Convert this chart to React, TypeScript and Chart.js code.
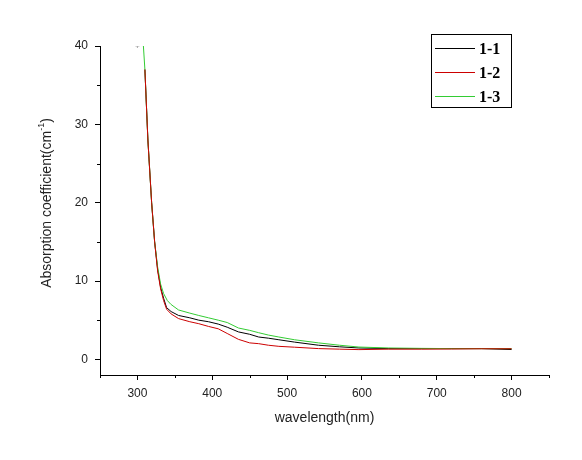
import React, { useEffect, useRef } from "react";
import { Chart, registerables } from "chart.js";

Chart.register(...registerables);

// 1-1 (black)
const wl11 = [310, 314, 319, 323, 327, 331, 335, 339, 345, 355, 370, 382, 395, 408, 420, 435, 450, 462, 475, 489, 510, 542, 570, 596, 636, 680, 720, 760, 800];
const ab11 = [37, 28, 20, 15, 11.5, 9.2, 7.8, 6.6, 6.1, 5.6, 5.3, 5.0, 4.8, 4.5, 4.1, 3.5, 3.2, 2.85, 2.7, 2.5, 2.2, 1.8, 1.6, 1.45, 1.37, 1.37, 1.37, 1.37, 1.25];
// 1-2 (red)
const wl12 = [310, 314, 319, 323, 327, 331, 335, 339, 345, 355, 370, 382, 395, 408, 420, 435, 450, 462, 475, 489, 510, 542, 570, 596, 636, 680, 720, 760, 800];
const ab12 = [37, 28, 20, 15, 11.3, 9.0, 7.5, 6.4, 5.8, 5.2, 4.8, 4.55, 4.2, 3.9, 3.3, 2.55, 2.1, 2.0, 1.8, 1.66, 1.55, 1.37, 1.3, 1.24, 1.3, 1.3, 1.32, 1.35, 1.35];
// 1-3 (green)
const wl13 = [308, 310, 314, 319, 323, 327, 331, 335, 340, 345, 355, 370, 382, 395, 408, 420, 435, 450, 462, 475, 489, 510, 542, 570, 596, 636, 680, 720, 760, 800];
const ab13 = [40, 37, 28, 20, 15, 11.8, 9.6, 8.4, 7.5, 7.0, 6.3, 5.9, 5.6, 5.3, 5.0, 4.7, 4.0, 3.7, 3.4, 3.1, 2.85, 2.5, 2.1, 1.8, 1.57, 1.45, 1.4, 1.37, 1.37, 1.37];

const seriesNames = ["1-1", "1-2", "1-3"];
const seriesColors = ["#000000", "#cc0000", "#33cc33"];

const xMajorTicks = [300, 400, 500, 600, 700, 800];
const xMinorTicks = [250, 350, 450, 550, 650, 750, 850];
const yMajorTicks = [0, 10, 20, 30, 40];
const yMinorTicks = [5, 15, 25, 35];

const xTitle = "wavelength(nm)";
const yTitleMain = "Absorption coefficient(cm";
const yTitleSup = "-1";
const yTitleEnd = ")";

const toPts = (xs: number[], ys: number[]) => xs.map((x, i) => ({ x, y: ys[i] }));

const overlay = {
  id: "overlay",
  afterDraw(chart: any) {
    const ctx = chart.ctx;
    const xs = chart.scales.x;
    const ys = chart.scales.y;
    const area = chart.chartArea;
    ctx.save();
    ctx.strokeStyle = "#000";
    ctx.lineWidth = 1;
    // minor ticks
    ctx.beginPath();
    xMinorTicks.forEach((v) => {
      const px = Math.round(xs.getPixelForValue(v)) + 0.5;
      ctx.moveTo(px, area.bottom);
      ctx.lineTo(px, area.bottom + 3);
    });
    yMinorTicks.forEach((v) => {
      const py = Math.round(ys.getPixelForValue(v)) + 0.5;
      ctx.moveTo(area.left, py);
      ctx.lineTo(area.left - 3, py);
    });
    ctx.stroke();

    // axis titles
    ctx.fillStyle = "#222";
    ctx.font = "14px 'Liberation Sans', Arial, sans-serif";
    ctx.textAlign = "center";
    ctx.textBaseline = "middle";
    ctx.fillText(xTitle, (xs.left + xs.right) / 2, 418);

    ctx.save();
    ctx.translate(47, 203);
    ctx.rotate(-Math.PI / 2);
    ctx.font = "14px 'Liberation Sans', Arial, sans-serif";
    const w1 = ctx.measureText(yTitleMain).width;
    ctx.font = "9px 'Liberation Sans', Arial, sans-serif";
    const w2 = ctx.measureText(yTitleSup).width;
    ctx.font = "14px 'Liberation Sans', Arial, sans-serif";
    const w3 = ctx.measureText(yTitleEnd).width;
    const total = w1 + w2 + w3;
    let cx = -total / 2;
    ctx.textAlign = "left";
    ctx.fillText(yTitleMain, cx, 0);
    cx += w1;
    ctx.font = "9px 'Liberation Sans', Arial, sans-serif";
    ctx.fillText(yTitleSup, cx, -5);
    cx += w2;
    ctx.font = "14px 'Liberation Sans', Arial, sans-serif";
    ctx.fillText(yTitleEnd, cx, 0);
    ctx.restore();

    // legend
    const lx = 431.5, ly = 34.5, lw = 80, lh = 73;
    ctx.fillStyle = "#fff";
    ctx.fillRect(lx, ly, lw, lh);
    ctx.strokeStyle = "#000";
    ctx.lineWidth = 1;
    ctx.strokeRect(lx, ly, lw, lh);
    ctx.font = "bold 16px 'Liberation Serif', 'Times New Roman', serif";
    ctx.textAlign = "left";
    ctx.textBaseline = "middle";
    seriesNames.forEach((name, i) => {
      const y = 48.5 + i * 24;
      ctx.strokeStyle = seriesColors[i];
      ctx.beginPath();
      ctx.moveTo(435, y);
      ctx.lineTo(475, y);
      ctx.stroke();
      ctx.fillStyle = "#000";
      ctx.fillText(name, 479, y + 1);
    });
    ctx.restore();
  },
};

export default function App() {
  const ref = useRef<HTMLCanvasElement | null>(null);
  useEffect(() => {
    if (!ref.current) return;
    const mk = (i: number, xs: number[], ys: number[]) => ({
      label: seriesNames[i],
      data: toPts(xs, ys),
      borderColor: seriesColors[i],
      backgroundColor: seriesColors[i],
      borderWidth: 1,
      pointRadius: 0,
      showLine: true,
      tension: 0,
    });
    const chart = new Chart(ref.current, {
      type: "scatter",
      data: {
        datasets: [
          mk(1, wl12, ab12),
          mk(2, wl13, ab13),
          mk(0, wl11, ab11),
          {
            label: "marker",
            data: [{ x: 300, y: 40 }],
            borderColor: "#aaa",
            backgroundColor: "#aaa",
            pointStyle: "cross",
            pointRadius: 2,
            borderWidth: 1,
            showLine: false,
          } as any,
        ],
      },
      options: {
        animation: false,
        responsive: true,
        maintainAspectRatio: false,
        layout: { padding: { top: 46, right: 33, left: 0, bottom: 0 } },
        plugins: { legend: { display: false }, tooltip: { enabled: false }, title: { display: false } },
        scales: {
          x: {
            type: "linear",
            min: 250,
            max: 850,
            afterBuildTicks: (s: any) => {
              s.ticks = xMajorTicks.map((v) => ({ value: v }));
            },
            afterFit: (s: any) => {
              s.height = 85;
            },
            grid: { display: true, drawOnChartArea: false, tickLength: 5, color: "#000" },
            border: { display: true, color: "#000", width: 1 },
            ticks: {
              color: "#222",
              padding: 6,
              maxRotation: 0,
              autoSkip: false,
              font: { family: "'Liberation Sans', Arial, sans-serif", size: 12 },
            },
          },
          y: {
            type: "linear",
            min: -2,
            max: 40,
            afterBuildTicks: (s: any) => {
              s.ticks = yMajorTicks.map((v) => ({ value: v }));
            },
            afterFit: (s: any) => {
              s.width = 100;
            },
            grid: { display: true, drawOnChartArea: false, tickLength: 5, color: "#000" },
            border: { display: true, color: "#000", width: 1 },
            ticks: {
              color: "#222",
              padding: 7,
              autoSkip: false,
              font: { family: "'Liberation Sans', Arial, sans-serif", size: 12 },
            },
          },
        },
      },
      plugins: [overlay],
    } as any);
    return () => chart.destroy();
  }, []);
  return (
    <div style={{ position: "fixed", left: 0, top: 0, width: 582, height: 460, background: "#fff" }}>
      <canvas ref={ref} />
    </div>
  );
}
